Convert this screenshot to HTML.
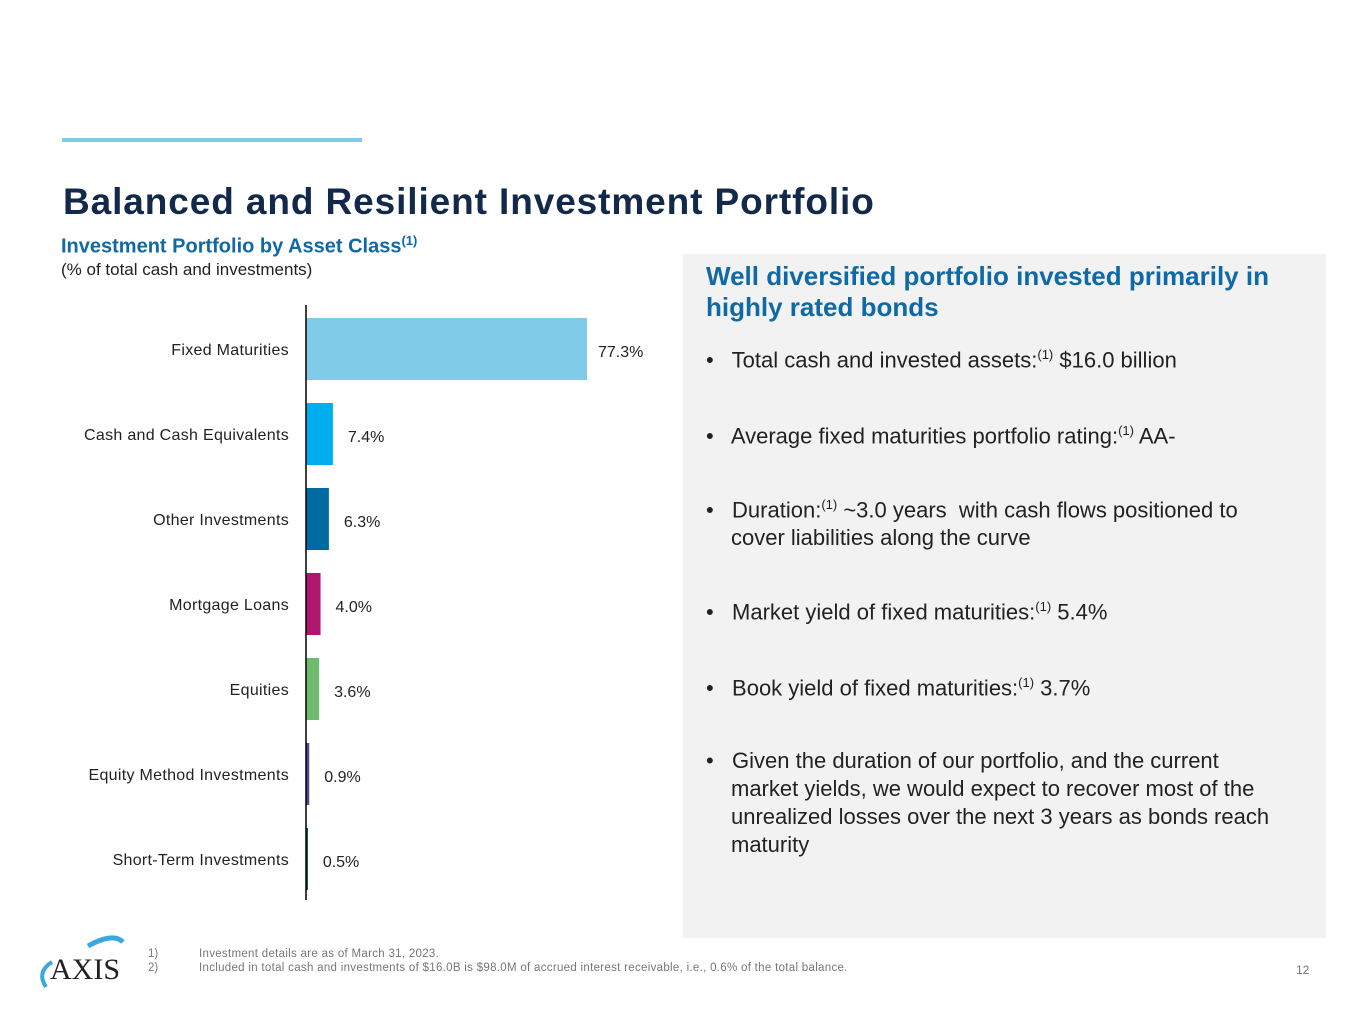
<!DOCTYPE html>
<html><head><meta charset="utf-8"><style>
body{margin:0;width:1365px;height:1022px;background:#fff;font-family:"Liberation Sans",sans-serif;position:relative;overflow:hidden}
.a{position:absolute}
.b{position:absolute;width:545px;padding-left:25px;text-indent:-25px}
</style></head><body>
<div class="a" style="left:62px;top:138px;width:300px;height:4px;background:#7fcbe8"></div>
<div class="a" style="left:63px;top:181px;font-size:37px;letter-spacing:0.9px;font-weight:bold;color:#13294b">Balanced and Resilient Investment Portfolio</div>
<div class="a" style="left:61px;top:233px;font-size:20px;font-weight:bold;color:#0f69a5">Investment Portfolio by Asset Class<sup style="font-size:13px">(1)</sup></div>
<div class="a" style="left:61px;top:260px;font-size:17px;color:#222">(% of total cash and investments)</div>
<svg class="a" style="left:0;top:0" width="680" height="920" id="chart"></svg>
<div class="a" style="left:683px;top:254px;width:643px;height:684px;background:#f2f2f2"></div>
<div class="a" style="left:706px;top:261px;width:610px;font-size:26px;line-height:31px;font-weight:bold;color:#0f69a5">Well diversified portfolio invested primarily in highly rated bonds</div>
<div class="a" style="left:706px;top:339px;width:580px;font-size:22px;line-height:28px;color:#222">
<div class="b" style="top:2px">•&nbsp;&nbsp; Total cash and invested assets:<sup style="font-size:13px">(1)</sup> $16.0 billion</div>
<div class="b" style="top:78px">•&nbsp;&nbsp; Average fixed maturities portfolio rating:<sup style="font-size:13px">(1)</sup> AA-</div>
<div class="b" style="top:152px">•&nbsp;&nbsp; Duration:<sup style="font-size:13px">(1)</sup> ~3.0 years&nbsp; with cash flows positioned to cover liabilities along the curve</div>
<div class="b" style="top:254px">•&nbsp;&nbsp; Market yield of fixed maturities:<sup style="font-size:13px">(1)</sup> 5.4%</div>
<div class="b" style="top:330px">•&nbsp;&nbsp; Book yield of fixed maturities:<sup style="font-size:13px">(1)</sup> 3.7%</div>
<div class="b" style="top:408px">•&nbsp;&nbsp; Given the duration of our portfolio, and the current market yields, we would expect to recover most of the unrealized losses over the next 3 years as bonds reach maturity</div>
</div>
<svg class="a" style="left:38px;top:932px" width="90" height="60">
<path d="M8 55 Q-2 40 14 30" stroke="#3aa8e0" stroke-width="4" fill="none"/>
<path d="M50 14 Q75 0 85 10" stroke="#3aa8e0" stroke-width="5" fill="none"/>
<text x="12" y="47" font-family="Liberation Serif" font-size="30" fill="#222">AXIS</text>
</svg>
<div class="a" style="left:148px;top:947px;font-size:11.5px;line-height:14px;color:#777">
<div>1)<span style="position:absolute;left:51px;white-space:nowrap;letter-spacing:0.3px">Investment details are as of March 31, 2023.</span></div>
<div>2)<span style="position:absolute;left:51px;white-space:nowrap;letter-spacing:0.3px">Included in total cash and investments of $16.0B is $98.0M of accrued interest receivable, i.e., 0.6% of the total balance.</span></div>
</div>
<div class="a" style="left:1296px;top:963px;font-size:12px;color:#777">12</div>
<script>
const categories=["Fixed Maturities","Cash and Cash Equivalents","Other Investments","Mortgage Loans","Equities","Equity Method Investments","Short-Term Investments"];
const values=[77.3,7.4,6.3,4.0,3.6,0.9,0.5];
const labels=["77.3%","7.4%","6.3%","4.0%","3.6%","0.9%","0.5%"];
const colors=["#7fcbe8","#00aeef","#006aa3","#b0166f","#6dbb6c","#4b4a9a","#0c5f4d"];
const svg=document.getElementById('chart');const NS="http://www.w3.org/2000/svg";
const x0=306,scale=281/77.3;
const xf=v=>v*scale;
const yc=i=>349+i*85;
function mk(t,a){const e=document.createElementNS(NS,t);for(const k in a)e.setAttribute(k,a[k]);svg.appendChild(e);return e;}
categories.forEach((c,i)=>{
const r=mk('rect',{x:x0,y:yc(i)-31,width:Math.max(xf(values[i]),2),height:62,fill:colors[i]});


const t=mk('text',{x:289,y:yc(i)+6,'text-anchor':'end','font-size':16,'letter-spacing':0.3,fill:'#222'});t.textContent=c;


const v=mk('text',{x:x0+xf(values[i])+(i==0?11:15),y:yc(i)+8,'font-size':16,fill:'#222'});v.textContent=labels[i];


});
const ax=mk('line',{x1:x0,y1:305,x2:x0,y2:900,stroke:'#000','stroke-width':1.5});


</script>
</body></html>
